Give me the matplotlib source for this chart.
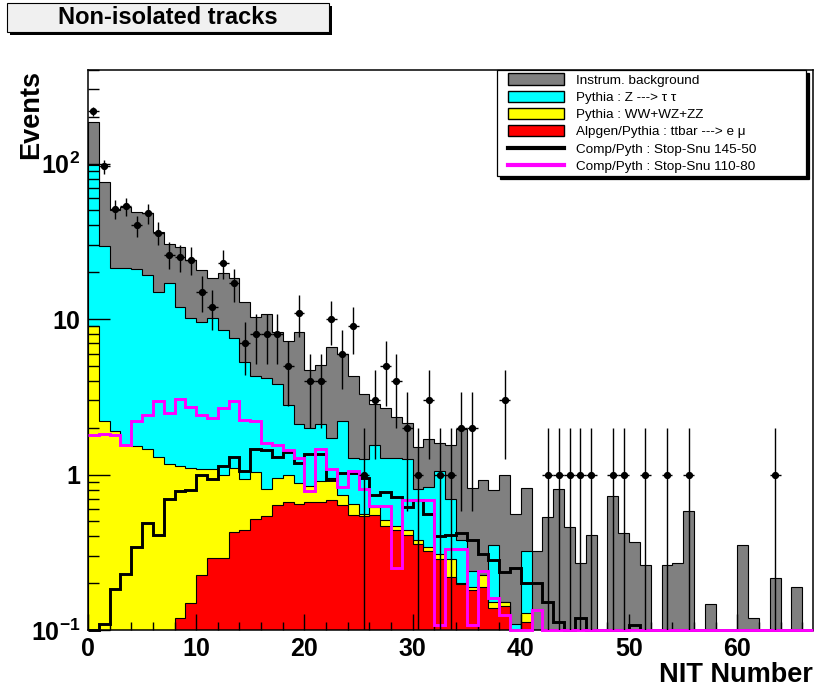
import matplotlib
matplotlib.use("Agg")
import matplotlib.pyplot as plt
import numpy as np
from matplotlib.patches import Patch, Rectangle
from matplotlib.lines import Line2D
from matplotlib.legend_handler import HandlerPatch, HandlerLine2D
from matplotlib.ticker import MultipleLocator, FixedLocator, FixedFormatter, LogLocator, NullFormatter

plt.rcParams["font.family"] = ["Liberation Sans", "DejaVu Sans"]
plt.rcParams["font.weight"] = "bold"
plt.rcParams["mathtext.fontset"] = "custom"
plt.rcParams["mathtext.rm"] = "Liberation Sans:bold"
plt.rcParams["mathtext.it"] = "Liberation Sans:bold"
plt.rcParams["mathtext.bf"] = "Liberation Sans:bold"
plt.rcParams["mathtext.default"] = "rm"

# ---- data: one value per NIT bin (0..66) ----
data_obs = [218, 96, 51, 53, 40, 48, 36, 26, 25, 24,
            15, 12, 23, 17, 7, 8, 8, 8, 5, 11,
            4, 4, 10, 6, 9, 1, 3, 5, 4, 2,
            1, 3, 1, 1, 2, 2, 0, 0, 3, 0,
            0, 0, 1, 1, 1, 1, 1, 0, 1, 1,
            0, 1, 0, 1, 0, 1, 0, 0, 0, 0,
            0, 0, 0, 1, 0, 0, 0]

# stacked levels (cumulative tops of the stack)
top_instr = [186, 76, 50.5, 52.5, 48.5, 47.8, 36.5, 30.6, 29, 24,
             20.8, 18.4, 19.7, 18.4, 12.9, 10.3, 10.8, 8.3, 7.2, 8.3,
             4.7, 5.1, 6.6, 6.0, 4.3, 3.3, 2.86, 2.67, 2.35, 2.15,
             1.5, 1.69, 1.6, 1.56, 1.96, 0.82, 0.92, 0.80, 0.99, 0.56,
             0.82, 0.32, 0.53, 0.81, 0.46, 0.27, 0.41, 0, 0.73, 0.42,
             0.37, 0.26, 0, 0.26, 0.27, 0.58, 0, 0.147, 0, 0,
             0.35, 0.119, 0, 0.215, 0, 0.188, 0]
top_ztt = [98, 29.5, 21.3, 21.3, 21, 19.2, 14.9, 17, 12, 10.1,
           9.6, 10.2, 8.5, 7.6, 5.3, 4.3, 4.2, 3.8, 2.8, 2.1,
           2.0, 2.1, 1.73, 2.2, 1.28, 1.25, 1.55, 1.27, 1.27, 1.25,
           0.81, 0.83, 1.05, 0.70, 0.38, 0.24, 0.226, 0.35, 0.152, 0.11,
           0.32, 0, 0, 0, 0, 0, 0, 0, 0, 0,
           0, 0, 0, 0, 0, 0, 0, 0, 0, 0,
           0, 0, 0, 0, 0, 0, 0]
top_vv = [9.0, 2.22, 1.91, 1.56, 1.53, 1.47, 1.29, 1.17, 1.13, 1.10,
          1.08, 1.09, 0.99, 1.10, 0.93, 1.04, 0.81, 0.95, 0.99, 0.88,
          0.85, 0.91, 0.95, 0.74, 0.65, 0.555, 0.62, 0.51, 0.47, 0.44,
          0.38, 0.34, 0.31, 0.285, 0.20, 0.19, 0.226, 0.152, 0.152, 0,
          0.128, 0, 0, 0, 0, 0, 0, 0, 0, 0,
          0, 0, 0, 0, 0, 0, 0, 0, 0, 0,
          0, 0, 0, 0, 0, 0, 0]
top_ttbar = [0, 0, 0, 0, 0, 0, 0, 0, 0.12, 0.15,
             0.226, 0.29, 0.29, 0.43, 0.44, 0.52, 0.54, 0.64, 0.67, 0.65,
             0.67, 0.67, 0.69, 0.64, 0.55, 0.54, 0.55, 0.47, 0.44, 0.41,
             0.36, 0.32, 0.285, 0.22, 0.198, 0.18, 0.19, 0.138, 0.143, 0,
             0.113, 0, 0, 0, 0, 0, 0, 0, 0, 0,
             0, 0, 0, 0, 0, 0, 0, 0, 0, 0,
             0, 0, 0, 0, 0, 0, 0]

sig_145_50 = [0, 0.11, 0.183, 0.23, 0.34, 0.49, 0.41, 0.70, 0.78, 0.80,
              0.99, 0.93, 1.13, 1.29, 1.06, 1.45, 1.44, 1.30, 1.40, 1.18,
              1.36, 1.36, 0.92, 1.02, 1.02, 0.95, 0.74, 0.77, 0.72, 0.62,
              0.69, 0.56, 0.40, 0.41, 0.42, 0.38, 0.31, 0.28, 0.235, 0.25,
              0.20, 0.20, 0.152, 0.113, 0, 0.119, 0, 0, 0, 0,
              0.107, 0, 0, 0, 0, 0, 0, 0, 0, 0,
              0, 0, 0, 0, 0, 0, 0]
sig_110_80 = [1.79, 1.83, 1.79, 1.56, 2.2, 2.4, 2.95, 2.48, 3.05, 2.7,
              2.4, 2.3, 2.66, 2.95, 2.24, 2.2, 1.6, 1.55, 1.44, 1.27,
              0.78, 1.45, 1.08, 0.83, 1.05, 0.81, 0.63, 0.63, 0.25, 0.69,
              0.69, 0.69, 0.107, 0.33, 0.33, 0.107, 0.24, 0.16, 0.125, 0,
              0, 0.134, 0, 0, 0, 0, 0, 0, 0, 0,
              0, 0, 0, 0, 0, 0, 0, 0, 0, 0,
              0, 0, 0, 0, 0, 0, 0]

labels = ["Instrum. background", "Pythia : Z ---> \u03c4 \u03c4", "Pythia : WW+WZ+ZZ",
          "Alpgen/Pythia : ttbar ---> e \u03bc", "Comp/Pyth : Stop-Snu 145-50",
          "Comp/Pyth : Stop-Snu 110-80"]
COLORS = ["#808080", "#00ffff", "#ffff00", "#ff0000"]
YMIN, YMAX = 0.1, 400
W, H = 814, 688

fig = plt.figure(figsize=(W / 100, H / 100), dpi=100)
ax = fig.add_axes([88 / W, 1 - 630 / H, (813 - 88) / W, (630 - 70) / H])
ax.set_yscale("log")

edges = np.arange(len(data_obs) + 1)
floor = 1e-3
for top, col in zip([top_instr, top_ztt, top_vv, top_ttbar], COLORS):
    ax.stairs(np.clip(top, floor, None), edges, baseline=floor, fill=True,
              facecolor=col, edgecolor="k", lw=0.8, zorder=1)

for sig, col in [(sig_145_50, "k"), (sig_110_80, "#ff00ff")]:
    ax.stairs(np.clip(sig, YMIN, None), edges, baseline=None, color=col, lw=2.1,
              zorder=3, clip_on=False)

d = np.array(data_obs, dtype=float)
m = d > 0
centers = edges[:-1] + 0.5
lo = np.minimum(np.sqrt(d), d - floor)
ax.errorbar(centers[m], d[m], yerr=[lo[m], np.sqrt(d[m])], xerr=0.5, fmt="o",
            color="k", ms=4.2, elinewidth=1.0, capsize=0, zorder=4)

ax.set_xlim(0, 67)
ax.set_ylim(YMIN, YMAX)
ax.xaxis.set_major_locator(MultipleLocator(10))
ax.xaxis.set_minor_locator(MultipleLocator(2))
ax.yaxis.set_major_locator(FixedLocator([0.1, 1, 10, 100]))
ax.yaxis.set_major_formatter(FixedFormatter([r"$10^{-1}$", "1", "10", r"$10^{2}$"]))
ax.yaxis.set_minor_locator(LogLocator(base=10, subs=np.arange(2, 10)))
ax.yaxis.set_minor_formatter(NullFormatter())
ax.tick_params(which="both", direction="in", top=False, right=False, width=1.0)
ax.tick_params(axis="x", which="major", length=11.5, pad=5.0, labelsize=18)
ax.tick_params(axis="x", which="minor", length=5.8)
ax.tick_params(axis="y", which="major", length=15.8, pad=5.5, labelsize=18)
ax.tick_params(axis="y", which="minor", length=7.9)
for s in ax.spines.values():
    s.set_linewidth(1.1)

ax.set_ylabel("Events", fontsize=19.5, fontweight="bold", loc="top")
ax.yaxis.set_label_coords(-(88 - 44) / 725, 1.0)
ax.set_xlabel("NIT Number", fontsize=19.5, fontweight="bold", loc="right")
ax.xaxis.set_label_coords(1.0, -(662 - 630) / 560)

handles = [Patch(facecolor=c, edgecolor="k", lw=1.0) for c in COLORS]
handles += [Line2D([], [], color="k", lw=3), Line2D([], [], color="#ff00ff", lw=3)]
leg = ax.legend(handles, labels, loc="upper left",
                bbox_to_anchor=(497 / W, 1 - 70 / H, (806 - 497) / W, 0.0),
                bbox_transform=fig.transFigure, mode="expand", borderaxespad=0,
                prop={"weight": "normal", "size": 9.7}, handlelength=4.7,
                handleheight=0.9, handletextpad=0.95, labelspacing=0.30,
                borderpad=0.25, frameon=True, fancybox=False,
                handler_map={Patch: HandlerPatch(xpad=0.6),
                             Line2D: HandlerLine2D(xpad=0.6)},
                shadow={"color": "k", "alpha": 1.0})
leg.get_frame().set_edgecolor("k")
leg.get_frame().set_linewidth(0.9)
leg.set_zorder(6)

# title pave with shadow
fig.add_artist(Rectangle((9.7 / W, 1 - 34.5 / H), 322.3 / W, 28.8 / H,
                         transform=fig.transFigure, fc="k", ec="k", lw=0))
fig.add_artist(Rectangle((6.7 / W, 1 - 31.5 / H), 322.3 / W, 28.8 / H,
                         transform=fig.transFigure, fc="#f0f0f0", ec="k", lw=0.8))
fig.text((6.7 + 329) / 2 / W, 1 - 17.5 / H, "Non-isolated tracks", ha="center",
         va="center", fontsize=17, fontweight="bold")

fig.savefig("out.png", dpi=100)
